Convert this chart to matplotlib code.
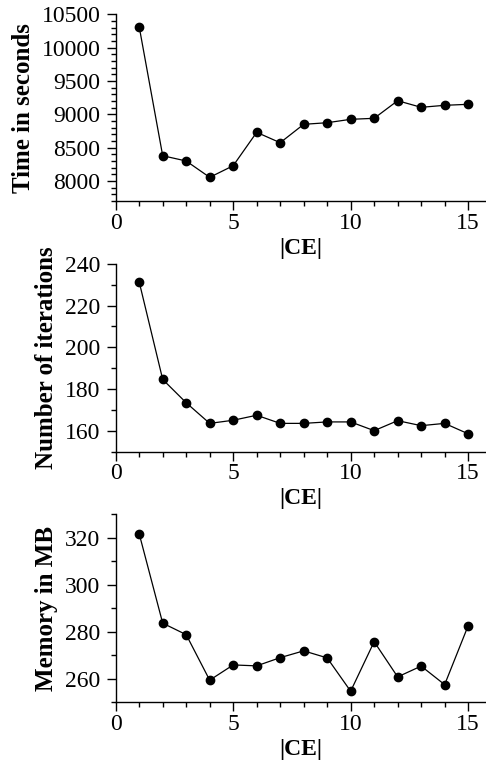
import matplotlib
matplotlib.use("Agg")
import matplotlib.pyplot as plt
from matplotlib.ticker import MultipleLocator

plt.rcParams['font.family'] = ['Liberation Serif', 'DejaVu Serif']
plt.rcParams['mathtext.fontset'] = 'stix'

ce = list(range(1, 16))
time_s = [10313, 8379, 8300, 8055, 8229, 8730, 8574, 8850, 8874, 8925, 8940, 9204, 9105, 9135, 9150]
iterations = [231.4, 184.6, 173.4, 163.5, 165.0, 167.4, 163.5, 163.5, 164.2, 164.2, 160.0, 164.8, 162.4, 163.5, 158.5]
memory = [321.7, 283.6, 278.7, 259.3, 265.8, 265.4, 268.9, 271.8, 268.8, 254.6, 275.7, 260.7, 265.3, 257.4, 282.5]

ylabels = ["Time in seconds", "Number of iterations", "Memory in MB"]
xlabel = "|CE|"

W, H = 486, 767
fig = plt.figure(figsize=(W / 100, H / 100), dpi=100)

def px_axes(top, bottom, left=115.7, right=486):
    return fig.add_axes([left / W, 1 - bottom / H, (right - left) / W, (bottom - top) / H])

specs = [
    (time_s, ylabels[0], (14.3, 201.0), (7700, 10500), 500, 100),
    (iterations, ylabels[1], (264.0, 451.5), (150, 240), 20, 10),
    (memory, ylabels[2], (514.3, 702.0), (250, 330), 20, 10),
]

for data, lab, (t, b), ylim, major, minor in specs:
    ax = px_axes(t, b)
    ax.plot(ce, data, color='black', lw=0.9, marker='o', ms=6, mfc='black', mec='black', clip_on=False)
    ax.set_xlim(0, 15.76)
    ax.set_ylim(*ylim)
    ax.xaxis.set_major_locator(MultipleLocator(5))
    ax.xaxis.set_minor_locator(MultipleLocator(1))
    ax.yaxis.set_major_locator(MultipleLocator(major))
    ax.yaxis.set_minor_locator(MultipleLocator(minor))
    for s in ('top', 'right'):
        ax.spines[s].set_visible(False)
    for s in ('left', 'bottom'):
        ax.spines[s].set_linewidth(1.0)
    ax.tick_params(which='major', direction='out', length=6.5, width=1.0, labelsize=17)
    ax.tick_params(axis='y', which='major', pad=4.5)
    ax.tick_params(axis='x', which='major', pad=2)
    ax.tick_params(which='minor', direction='out', length=3.3, width=1.0)
    ax.set_ylabel(lab, fontsize=18, fontweight='bold', labelpad=5)
    ax.set_xlabel(xlabel, fontsize=17, fontweight='bold', labelpad=3)

fig.savefig("out.png", dpi=100)
